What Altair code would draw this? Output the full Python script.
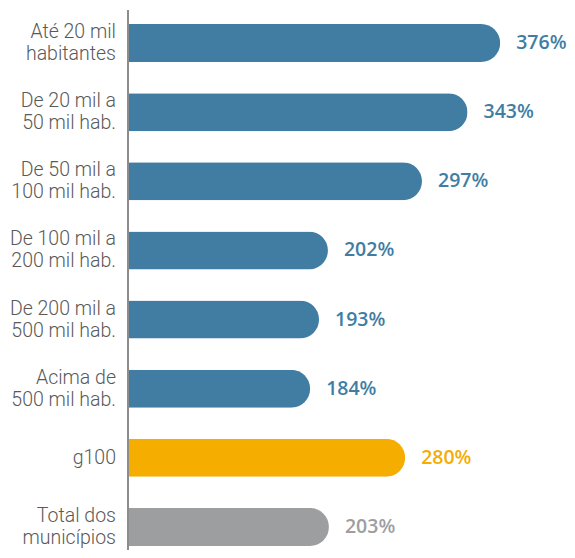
import altair as alt
import pandas as pd

keys = ["a", "b", "c", "d", "e", "f", "g", "h"]
labels = ["Até 20 mil\nhabitantes", "De 20 mil a\n50 mil hab.", "De 50 mil a\n100 mil hab.",
          "De 100 mil a\n200 mil hab.", "De 200 mil a\n500 mil hab.", "Acima de\n500 mil hab.",
          "g100", "Total dos\nmunicípios"]
values = [376, 343, 297, 202, 193, 184, 280, 203]
groups = ["porte", "porte", "porte", "porte", "porte", "porte", "g100", "total"]
group_names = ["porte", "g100", "total"]
group_colors = ["#417DA3", "#F5AD00", "#9D9EA0"]

df = pd.DataFrame({"key": keys, "label": labels, "value": values, "group": groups})
df["text"] = df["value"].astype(str) + "%"
df["lines"] = df["label"].str.count("\n") + 1

W, H = 439, 522

y = alt.Y("key:N", sort=keys, axis=None,
          scale=alt.Scale(paddingInner=0.45, paddingOuter=0))
x = alt.X("value:Q", axis=None, scale=alt.Scale(domain=[0, 443.5], nice=False))
color = alt.Color("group:N", scale=alt.Scale(domain=group_names, range=group_colors), legend=None)

base = alt.Chart(df)

bars = base.mark_bar(cornerRadiusEnd=19).encode(x=x, y=y, color=color)

vals = base.mark_text(align="left", baseline="middle", dx=16, font="Open Sans",
                      fontWeight=600, fontSize=19.5).encode(x=x, y=y, text="text:N", color=color)

cat_style = dict(align="right", baseline="middle", lineBreak="\n", font="Roboto",
                 fontWeight=300, fontSize=19.5, lineHeight=22, color="#595959")

cats2 = base.transform_filter("datum.lines == 2").mark_text(dy=-11, **cat_style).encode(
    x=alt.value(-12), y=y, text="label:N")
cats1 = base.transform_filter("datum.lines == 1").mark_text(**cat_style).encode(
    x=alt.value(-12), y=y, text="label:N")

axis_line = base.mark_rule(color="#8C8C8C", strokeWidth=2).encode(
    x=alt.value(0), y=alt.value(-14), y2=alt.value(540))

chart = alt.layer(bars, vals, cats2, cats1, axis_line).properties(
    width=W, height=H,
    autosize=alt.AutoSizeParams(type="none"),
    padding={"left": 120, "top": 16, "right": 0, "bottom": 4},
).configure_view(stroke=None)

chart.save("out.html", embed_options={"renderer": "svg", "actions": False})
